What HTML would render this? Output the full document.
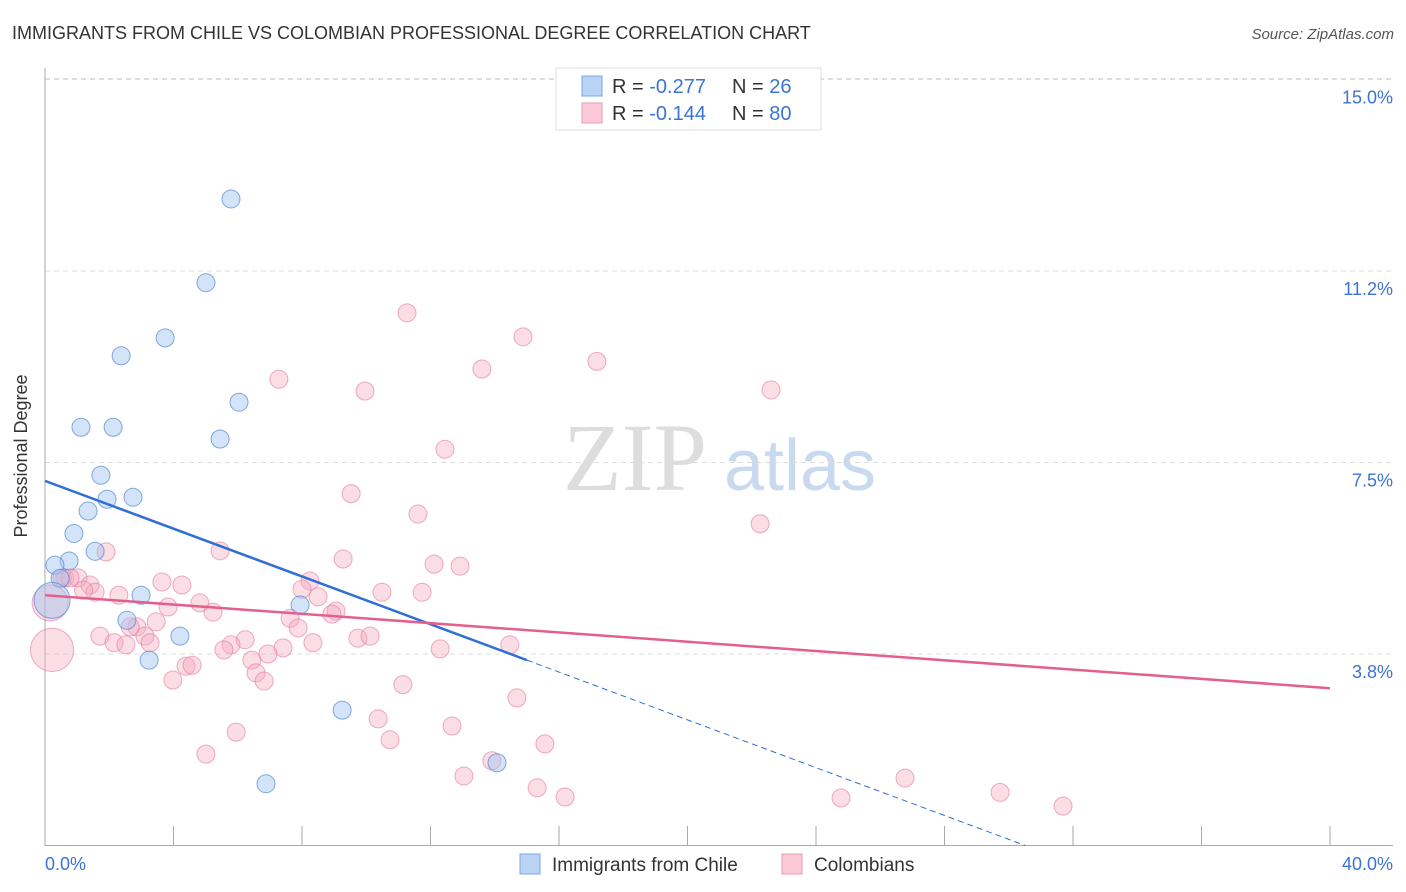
<!DOCTYPE html>
<html><head><meta charset="utf-8"><style>
body{margin:0;background:#fff;font-family:"Liberation Sans",sans-serif}
svg{display:block}
</style></head><body>
<svg id="chart" width="1406" height="892" xmlns="http://www.w3.org/2000/svg">
<text x="12" y="39" font-size="18" fill="#333">IMMIGRANTS FROM CHILE VS COLOMBIAN PROFESSIONAL DEGREE CORRELATION CHART</text>
<text x="1394" y="39" font-size="15" fill="#555" text-anchor="end" font-style="italic">Source: ZipAtlas.com</text>
<g>
<text x="635" y="490" font-size="96" fill="#ddd" font-family="Liberation Serif,serif" text-anchor="middle">ZIP</text>
<text x="800" y="490" font-size="72" fill="#c9daf0" text-anchor="middle">atlas</text>
</g>
<g id="grid"></g>
<g id="axes"></g>
<g id="pts"></g>
<g id="lines"></g>
<text x="27" y="456" font-size="18" fill="#333" text-anchor="middle" transform="rotate(-90 27 456)">Professional Degree</text>
<g>
<rect x="556" y="68" width="265" height="62" fill="#fff" stroke="#ddd"/>
<rect x="582" y="76" width="20" height="20" fill="#b9d3f5" stroke="#7aa7e3"/>
<rect x="582" y="103" width="20" height="20" fill="#fbc9d7" stroke="#eb9ab3"/>
<text x="612" y="93" font-size="20" fill="#333">R = <tspan fill="#3b74d1">-0.277</tspan><tspan x="732">N = </tspan><tspan fill="#3b74d1">26</tspan></text>
<text x="612" y="120" font-size="20" fill="#333">R = <tspan fill="#3b74d1">-0.144</tspan><tspan x="732">N = </tspan><tspan fill="#3b74d1">80</tspan></text>
</g>
<g>
<rect x="520" y="854" width="20" height="20" fill="#b9d3f5" stroke="#7aa7e3"/>
<text x="552" y="871" font-size="19" fill="#333">Immigrants from Chile</text>
<rect x="782" y="854" width="20" height="20" fill="#fbc9d7" stroke="#eb9ab3"/>
<text x="814" y="871" font-size="19" fill="#333">Colombians</text>
</g>
</svg>
<script>
const yTicks=[3.75,7.5,11.25,15];
const yTickLabels=["3.8%","7.5%","11.2%","15.0%"];
const xTickLabels=["0.0%","40.0%"];
const chileX=[5.79,5.01,3.74,2.37,6.04,1.12,2.12,5.45,1.74,1.93,2.74,1.34,0.90,1.56,0.75,0.31,0.47,0.22,2.99,2.55,4.20,3.24,7.94,9.25,6.88,14.07];
const chileY=[12.66,11.02,9.94,9.59,8.68,8.19,8.19,7.96,7.25,6.78,6.82,6.55,6.11,5.76,5.57,5.49,5.23,4.80,4.90,4.41,4.10,3.63,4.71,2.65,1.21,1.62];
const chileSize=[1,1,1,1,1,1,1,1,1,1,1,1,1,1,1,1,1,2,1,1,1,1,1,1,1,1];
const colX=[11.27,14.88,17.18,7.28,13.60,9.96,22.60,12.45,9.53,11.61,22.26,5.45,1.90,9.28,12.11,12.92,3.64,4.26,8.25,0.62,1.03,1.40,1.56,2.30,10.49,11.74,8.00,8.50,4.82,3.83,5.23,9.06,8.93,7.63,3.46,7.88,2.86,1.71,2.15,3.11,2.52,3.27,6.23,5.79,9.74,10.12,8.34,14.47,5.57,7.41,12.30,6.94,6.44,4.39,4.58,6.57,3.98,6.82,11.14,14.69,10.37,12.67,5.95,10.74,5.01,15.56,13.91,13.04,26.77,15.32,16.19,24.78,29.73,31.69,0.22,0.16,2.65,0.53,0.78,1.2];
const colY=[10.43,9.96,9.48,9.13,9.33,8.90,8.92,7.76,6.89,6.49,6.30,5.77,5.75,5.61,5.51,5.47,5.16,5.10,5.18,5.24,5.24,5.10,4.96,4.90,4.96,4.96,5.02,4.87,4.75,4.67,4.57,4.59,4.53,4.45,4.38,4.26,4.28,4.10,3.97,4.10,3.93,3.97,4.03,3.93,4.06,4.10,3.97,3.93,3.83,3.87,3.85,3.75,3.63,3.51,3.53,3.38,3.24,3.22,3.15,2.89,2.48,2.34,2.22,2.07,1.79,1.99,1.66,1.36,1.32,1.13,0.95,0.93,1.04,0.77,3.83,4.75,4.28,5.24,5.24,5.0];
const colSize=[1,1,1,1,1,1,1,1,1,1,1,1,1,1,1,1,1,1,1,1,1,1,1,1,1,1,1,1,1,1,1,1,1,1,1,1,1,1,1,1,1,1,1,1,1,1,1,1,1,1,1,1,1,1,1,1,1,1,1,1,1,1,1,1,1,1,1,1,1,1,1,1,1,1,2.4,2,1,1,1,1];
const chileLine=[7.14,-0.234];
const colLine=[4.90,-0.0455];
const NS="http://www.w3.org/2000/svg";
const X=v=>45+v/40*1285, Y=v=>845.5-v*51.07;
function mk(t,a,p){const e=document.createElementNS(NS,t);for(const k in a)e.setAttribute(k,a[k]);p.appendChild(e);return e;}
const grid=document.getElementById('grid'),axes=document.getElementById('axes'),pts=document.getElementById('pts'),lines=document.getElementById('lines');
yTicks.forEach((v,i)=>{
 const l=mk('line',{x1:45,x2:1393,y1:Y(v),y2:Y(v),stroke:'#ddd','stroke-dasharray':'5,4'},grid);
 
 
 const t=mk('text',{x:1393,y:Y(v)+24,'font-size':18,fill:'#3b74d1','text-anchor':'end'},axes);t.textContent=yTickLabels[i];
 
 
});
const tl=mk('line',{x1:45,x2:1393,y1:Y(15)-1,y2:Y(15)-1,stroke:'#ddd','stroke-dasharray':'5,4'},grid);
mk('line',{x1:45,x2:45,y1:68,y2:846,stroke:'#aaa'},axes);
const xa=mk('line',{x1:45,x2:1393,y1:845.5,y2:845.5,stroke:'#aaa'},axes);


for(let i=0;i<=10;i++){mk('line',{x1:X(i*4),x2:X(i*4),y1:826,y2:846,stroke:'#aaa'},axes);}
xTickLabels.forEach((s,i)=>{const t=mk('text',{x:i?1393:45,y:870,'font-size':18,fill:'#3b74d1','text-anchor':i?'end':'start'},axes);t.textContent=s;
 
 });
colX.forEach((x,i)=>{const c=mk('circle',{cx:X(x),cy:Y(colY[i]),r:9*colSize[i],fill:'rgba(246,170,192,0.4)',stroke:'rgba(226,120,155,0.6)'},pts);
 
 });
chileX.forEach((x,i)=>{const c=mk('circle',{cx:X(x),cy:Y(chileY[i]),r:9*chileSize[i],fill:'rgba(160,195,240,0.45)',stroke:'rgba(80,135,210,0.7)'},pts);
 
 });
const f=(L,x)=>L[0]+L[1]*x;
const zero=-chileLine[0]/chileLine[1];
const a=mk('line',{x1:X(0),y1:Y(f(chileLine,0)),x2:X(15),y2:Y(f(chileLine,15)),stroke:'#2f6fd6','stroke-width':2.5},lines);


const b=mk('line',{x1:X(15),y1:Y(f(chileLine,15)),x2:X(zero),y2:Y(0),stroke:'#2f6fd6','stroke-width':1,'stroke-dasharray':'6,4'},lines);


const c=mk('line',{x1:X(0),y1:Y(f(colLine,0)),x2:X(40),y2:Y(f(colLine,40)),stroke:'#e4608c','stroke-width':2.5},lines);


</script>
</body></html>
